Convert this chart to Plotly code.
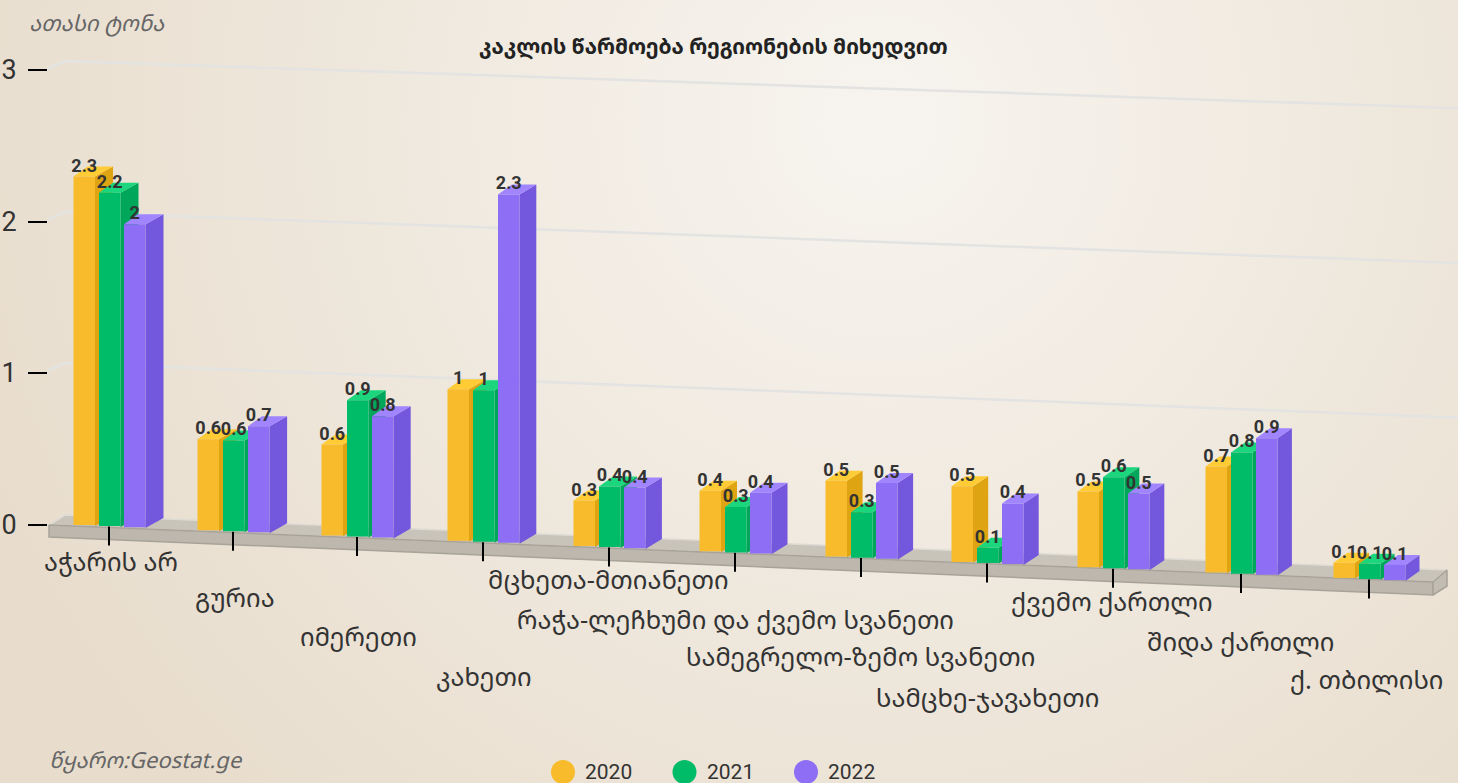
import base64
import plotly.graph_objects as go

# ---------- data ----------
CATEGORIES = ["აჭარის არ", "გურია", "იმერეთი", "კახეთი", "მცხეთა-მთიანეთი",
              "რაჭა-ლეჩხუმი და ქვემო სვანეთი", "სამეგრელო-ზემო სვანეთი",
              "სამცხე-ჯავახეთი", "ქვემო ქართლი", "შიდა ქართლი", "ქ. თბილისი"]
YEARS = ["2020", "2021", "2022"]
V2020 = [2.3, 0.6, 0.6, 1, 0.3, 0.4, 0.5, 0.5, 0.5, 0.7, 0.1]
V2021 = [2.2, 0.6, 0.9, 1, 0.4, 0.3, 0.3, 0.1, 0.6, 0.8, 0.1]
V2022 = [2, 0.7, 0.8, 2.3, 0.4, 0.4, 0.5, 0.4, 0.5, 0.9, 0.1]
SERIES = [V2020, V2021, V2022]
Y_TICKS = [0, 1, 2, 3]
TITLE = "კაკლის წარმოება რეგიონების მიხედვით"
UNIT = "ათასი ტონა"
SOURCE = "წყარო:Geostat.ge"

FRONT = ["#F7BB2B", "#00BB68", "#8D6EF5"]
SIDE = ["#DFA411", "#00A65A", "#7357DC"]
TOP = ["#FFCC35", "#1BD67C", "#A085FF"]

# perspective: category centres on the page (px)
CAT_PX = [109, 233, 357, 483, 609, 735, 861, 987, 1113, 1241, 1369]
# label anchor points on the page (px)
LABEL_PX = [(111, 561), (235, 596.5), (358, 635.5), (484, 675.5), (608, 579), (735, 618.5),
            (860, 655.5), (987, 696.5), (1112, 600.5), (1240, 640.5), (1367, 678.5)]

# ---------- axis geometry: page px <-> axis units ----------
W, H = 1458, 783
PITCH, X0 = 126.0, 109.0      # px per category, px of first category
UY, Y0 = 151.5, 524.5         # px per value unit, px of value 0
def cx(px): return (px - X0) / PITCH
def vy(py): return (Y0 - py) / UY
def dyv(d): return d / UY

SLOPE = 0.042
BAR_W = 21.5
OFFS = [-35.5, -10.0, 15.0]   # left edge of each bar relative to category centre, px

def base_at(xpx):
    return -SLOPE * (xpx - 73) / UY - 0.5 / UY

fig = go.Figure()

# back grid lines, one per y tick
for t in Y_TICKS[1:]:
    s = SLOPE - 0.0027 * t
    yleft = 514 - 151 * t
    fig.add_trace(go.Scatter(
        x=[cx(47), cx(65), cx(1458)],
        y=[vy(yleft + 8), vy(yleft), vy(yleft + s * (1458 - 65))],
        mode="lines", line=dict(color="#E3E3E2", width=2.5), zorder=0,
        showlegend=False, hoverinfo="skip"))

# floor slab
def poly(pts, fill, line=None, z=1):
    xs = [cx(p[0]) for p in pts] + [cx(pts[0][0])]
    ys = [vy(p[1]) for p in pts] + [vy(pts[0][1])]
    fig.add_trace(go.Scatter(x=xs, y=ys, mode="lines", fill="toself", fillcolor=fill,
                             line=dict(color=line or fill, width=1.5 if line else 0),
                             zorder=z, showlegend=False, hoverinfo="skip"))

poly([(49, 525), (65, 515), (1447, 570), (1433, 582)], "#C9C4BA", "#DEDBD5")
poly([(49, 525), (1433, 582), (1433, 595), (49, 537)], "#BDB7AD", "#A8A399")
poly([(1433, 582), (1447, 570), (1447, 586), (1433, 595)], "#C2BDB3", "#A8A399")

# category tick marks
tx, ty = [], []
for px in CAT_PX:
    top = 526.5 + SLOPE * (px - 109)
    tx += [cx(px), cx(px), None]
    ty += [vy(top), vy(top + 19), None]
fig.add_trace(go.Scatter(x=tx, y=ty, mode="lines", line=dict(color="#000", width=2),
                         zorder=2, showlegend=False, hoverinfo="skip"))

# columns: front face is a bar, side and top faces follow it
lab_x, lab_y, lab_t = [], [], []
for s, vals in enumerate(SERIES):
    xs, bases = [], []
    for i, v in enumerate(vals):
        left = CAT_PX[i] + OFFS[s]
        right = left + BAR_W
        b0 = base_at(left)
        b1 = base_at(right)
        top = b0 + v
        xs.append(cx(left + BAR_W / 2))
        bases.append(b0)
        dr = 18 - 0.4 * i
        dl = 14
        dy = dyv(10)
        # side face
        fig.add_trace(go.Scatter(
            x=[cx(right), cx(right + dr), cx(right + dr), cx(right), cx(right)],
            y=[b1, b1 + dy, top + dy, top, b1],
            mode="lines", fill="toself", fillcolor=SIDE[s], line=dict(width=0, color=SIDE[s]),
            zorder=3 + 2 * s, showlegend=False, hoverinfo="skip"))
        # top face
        fig.add_trace(go.Scatter(
            x=[cx(left), cx(right), cx(right + dr), cx(left + dl), cx(left)],
            y=[top, top, top + dy, top + dy, top],
            mode="lines", fill="toself", fillcolor=TOP[s], line=dict(width=0, color=TOP[s]),
            zorder=3 + 2 * s, showlegend=False, hoverinfo="skip"))
        lab_x.append(cx(left + BAR_W / 2))
        lab_y.append(top + dyv(9.5))
        lab_t.append(str(v))
    fig.add_trace(go.Bar(x=xs, y=vals, base=bases, width=BAR_W / PITCH,
                         marker=dict(color=FRONT[s], line=dict(width=0)),
                         name=YEARS[s], showlegend=False, zorder=4 + 2 * s))

fig.add_trace(go.Scatter(x=lab_x, y=lab_y, text=lab_t, mode="text", textposition="middle center",
                         textfont=dict(family="Roboto", size=18, color="#333333", weight="bold"),
                         zorder=20, showlegend=False, hoverinfo="skip"))

# legend
for s, yr in enumerate(YEARS):
    fig.add_trace(go.Scatter(x=[cx(563 + 121.5 * s)], y=[vy(772)], mode="markers",
                             marker=dict(size=24, color=FRONT[s]),
                             zorder=20, showlegend=False, hoverinfo="skip", cliponaxis=False))

# text annotations
GEO = "Noto Sans Georgian, DejaVu Sans, Noto Sans"
ann = []
for name, (px, py) in zip(CATEGORIES, LABEL_PX):
    ann.append(dict(x=cx(px), y=vy(py), xref="x", yref="y", text=name, showarrow=False,
                    xanchor="center", yanchor="middle",
                    font=dict(family=GEO, size=25.5, color="#333333")))
for s, yr in enumerate(YEARS):
    ann.append(dict(x=cx(583 + 121.5 * s), y=vy(772), xref="x", yref="y", text=yr, showarrow=False,
                    xanchor="left", yanchor="middle",
                    font=dict(family="Roboto", size=21, color="#333333")))
ann.append(dict(x=cx(713), y=vy(46), xref="x", yref="y", text="<b>" + TITLE + "</b>", showarrow=False,
                font=dict(family=GEO, size=21, color="#222222")))
ann.append(dict(x=cx(27), y=vy(22), xref="x", yref="y", text="<i>" + UNIT + "</i>", showarrow=False,
                xanchor="left", font=dict(family=GEO, size=22, color="#666666")))
ann.append(dict(x=cx(47), y=vy(759), xref="x", yref="y", text="<i>" + SOURCE + "</i>", showarrow=False,
                xanchor="left", font=dict(family=GEO, size=22, color="#666666")))

svg = f'''<svg xmlns="http://www.w3.org/2000/svg" width="{W}" height="{H}">
<defs><radialGradient id="g" gradientUnits="userSpaceOnUse" cx="880" cy="120" r="950">
<stop offset="0" stop-color="#F7F4EF"/><stop offset="1" stop-color="#E8DDCD"/></radialGradient></defs>
<rect width="{W}" height="{H}" fill="url(#g)"/></svg>'''
bg = "data:image/svg+xml;base64," + base64.b64encode(svg.encode()).decode()

fig.update_layout(
    width=W, height=H, margin=dict(l=0, r=0, t=0, b=0), autosize=False,
    paper_bgcolor="#EFE8DC", plot_bgcolor="rgba(0,0,0,0)", barmode="overlay",
    showlegend=False, annotations=ann,
    images=[dict(source=bg, xref="paper", yref="paper", x=0, y=1, sizex=1, sizey=1,
                 sizing="stretch", layer="below")],
    xaxis=dict(range=[cx(0), cx(W)], visible=False, fixedrange=True),
    yaxis=dict(range=[vy(H), vy(0)], tickvals=Y_TICKS, ticktext=[str(t) for t in Y_TICKS],
               showgrid=False, zeroline=False, showline=False, anchor="free", position=47 / W,
               ticks="outside", ticklen=19, tickwidth=2, tickcolor="#000",
               ticklabelstandoff=6, fixedrange=True,
               tickfont=dict(family="Roboto", size=27, color="#333333")),
)
fig.write_html("out.html", config={"displayModeBar": False},
               post_script="document.body.style.margin='0';document.body.style.overflow='hidden';")
